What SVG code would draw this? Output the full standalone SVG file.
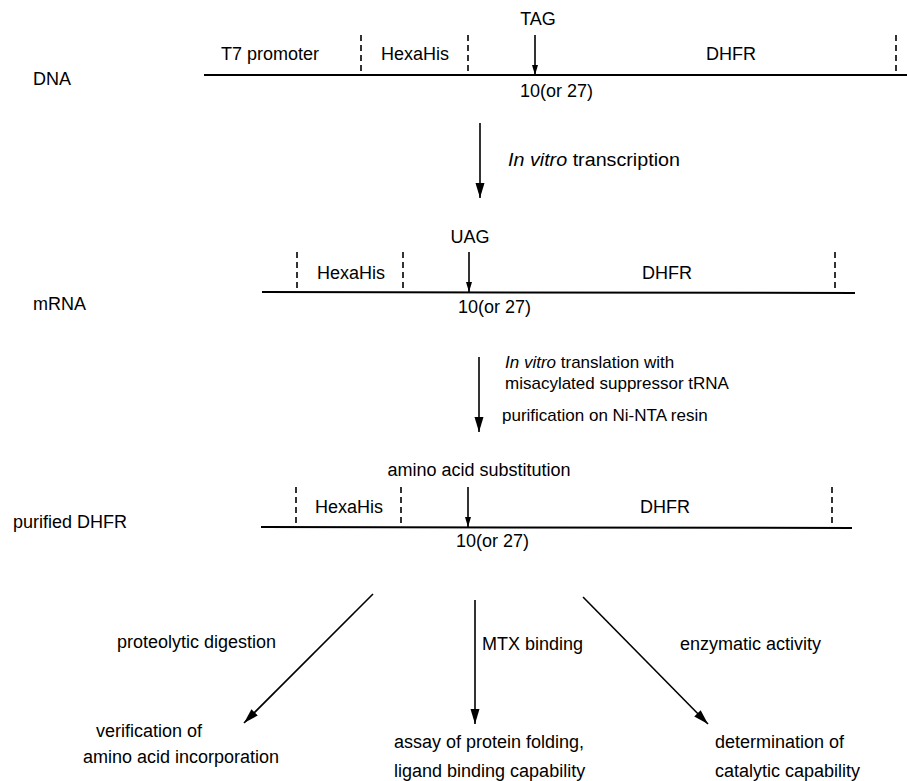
<svg xmlns="http://www.w3.org/2000/svg" width="907" height="781" viewBox="0 0 907 781">
<style>
text{font-family:"Liberation Sans",Arial,sans-serif;font-size:18px;fill:#000}
.m{text-anchor:middle}
.s{font-size:17px}
.seq{stroke:#000;stroke-width:2;fill:none}
.dash{stroke:#000;stroke-width:1.6;stroke-dasharray:6,4;fill:none}
.arr{stroke:#000;stroke-width:1.6;fill:none}
.i{font-style:italic}
</style>
<defs>
<marker id="ah" markerUnits="userSpaceOnUse" markerWidth="16" markerHeight="10" refX="15" refY="4.5" orient="auto">
<path d="M0,0 L15,4.5 L0,9 z" fill="#000"/>
</marker>
<marker id="as" markerUnits="userSpaceOnUse" markerWidth="12" markerHeight="8" refX="10" refY="3" orient="auto">
<path d="M0,0 L10,3 L0,6 z" fill="#000"/>
</marker>
</defs>

<g id="dna">
<text x="33" y="85">DNA</text>
<line class="seq" x1="204" y1="75" x2="907" y2="75"/>
<line class="dash" x1="361" y1="35" x2="361" y2="75"/>
<line class="dash" x1="468" y1="35" x2="468" y2="75"/>
<line class="dash" x1="896" y1="35" x2="896" y2="75"/>
<text x="221" y="60">T7 promoter</text>
<text x="381" y="60">HexaHis</text>
<text class="m" x="731" y="60">DHFR</text>
<text class="m" x="538" y="25">TAG</text>
<line class="arr" x1="535" y1="35" x2="535" y2="75" marker-end="url(#as)"/>
<text x="520" y="97">10(or 27)</text>
</g>

<g id="mrna">
<text x="33" y="310">mRNA</text>
<line class="seq" x1="262" y1="292" x2="855" y2="293"/>
<line class="dash" x1="297" y1="252" x2="297" y2="292"/>
<line class="dash" x1="403" y1="252" x2="403" y2="292"/>
<line class="dash" x1="835" y1="252" x2="835" y2="293"/>
<text x="317" y="279">HexaHis</text>
<text class="m" x="667" y="279">DHFR</text>
<text class="m" x="470" y="243">UAG</text>
<line class="arr" x1="469" y1="252" x2="469" y2="292" marker-end="url(#as)"/>
<text x="458" y="313">10(or 27)</text>
</g>

<g id="purified">
<text x="13" y="528">purified DHFR</text>
<line class="seq" x1="261" y1="527" x2="852" y2="528"/>
<line class="dash" x1="296" y1="487" x2="296" y2="527"/>
<line class="dash" x1="401" y1="487" x2="401" y2="527"/>
<line class="dash" x1="832" y1="487" x2="832" y2="528"/>
<text x="315" y="513">HexaHis</text>
<text class="m" x="665" y="513">DHFR</text>
<text class="m" x="479" y="476">amino acid substitution</text>
<line class="arr" x1="468" y1="487" x2="468" y2="527" marker-end="url(#as)"/>
<text x="456" y="547">10(or 27)</text>
</g>

<g id="verification">
<text x="96" y="737">verification of</text>
<text x="83" y="763">amino acid incorporation</text>
</g>

<g id="assay">
<text x="394" y="748">assay of protein folding,</text>
<text x="394" y="777">ligand binding capability</text>
</g>

<g id="determination">
<text x="715" y="748">determination of</text>
<text x="715" y="777">catalytic capability</text>
</g>

<g id="connectors">
<line class="arr" x1="480" y1="123" x2="480" y2="198" marker-end="url(#ah)"/>
<text x="508" y="166" textLength="172" lengthAdjust="spacingAndGlyphs"><tspan class="i">In vitro</tspan> transcription</text>
<line class="arr" x1="479" y1="357" x2="479" y2="432" marker-end="url(#ah)"/>
<text class="s" x="505" y="368"><tspan class="i">In vitro</tspan> translation with</text>
<text class="s" x="505" y="389">misacylated suppressor tRNA</text>
<text class="s" x="502" y="421">purification on Ni-NTA resin</text>
<line class="arr" x1="373" y1="594" x2="244" y2="723" marker-end="url(#ah)"/>
<text x="117" y="648">proteolytic digestion</text>
<line class="arr" x1="475" y1="600" x2="475" y2="724" marker-end="url(#ah)"/>
<text x="482" y="650">MTX binding</text>
<line class="arr" x1="583" y1="597" x2="708" y2="724" marker-end="url(#ah)"/>
<text x="680" y="650">enzymatic activity</text>
</g>
</svg>
